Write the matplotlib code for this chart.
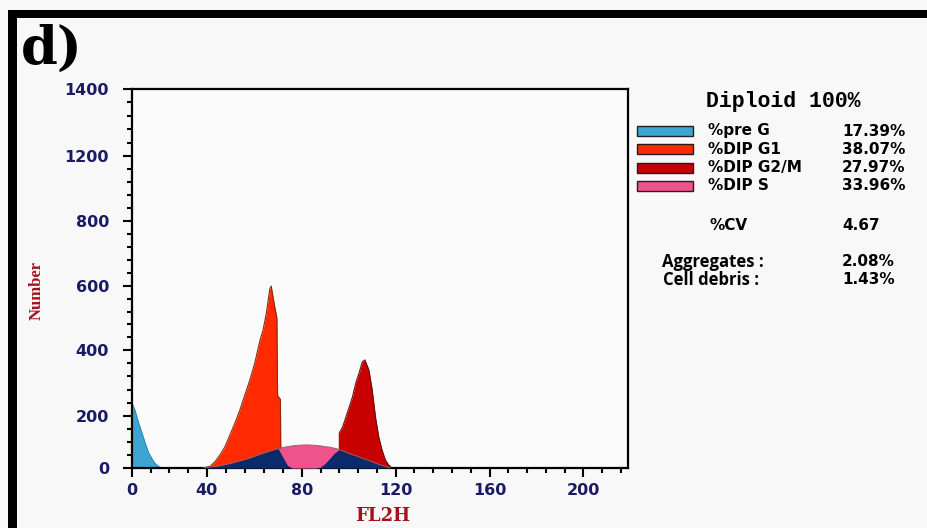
import matplotlib.pyplot as plt
import numpy as np
from matplotlib.patches import Rectangle
from matplotlib.ticker import FixedLocator

# *** histogram data (FL2H channel, number of events)
preg_x = [0, 1.6, 3.4, 5.2, 6.9, 8.7, 10.5, 12.2, 14, 15.5]
preg_n = [240, 218, 177, 138, 100, 62, 38, 19, 8, 0]

g1_x = [37.5, 41.3, 43.4, 45.5, 47.6, 49.7, 51.8, 53.9, 56.0, 58.1, 60.2, 62.3, 63.7,
        65.1, 66.5, 67.1, 68.0, 68.8, 69.5, 69.8, 71.0, 71.2]
g1_n = [0, 6, 24, 50, 82, 127, 173, 218, 264, 309, 361, 428, 463,
        517, 590, 600, 560, 527, 500, 262, 250, 0]

g2_x = [96, 96, 97.4, 98.8, 100.2, 101.6, 103, 104.4, 105.8, 106.9, 108.6, 110, 111.4,
        112.8, 114.2, 115.6, 117, 118.4]
g2_n = [0, 135, 158, 196, 227, 258, 300, 330, 364, 370, 339, 279, 196,
        119, 69, 31, 12, 0]

# S phase band, one value every 2 channels from 38 to 118
s_x = np.arange(38, 120, 2)
s_n = [0, 2, 4, 7, 10, 14, 18, 23, 28, 33, 38, 45, 52, 58, 64, 70, 75, 79, 82, 85, 87,
       88, 89, 88, 87, 85, 82, 80, 76, 71, 64, 57, 50, 44, 37, 31, 24, 17, 11, 5, 0]
# pink part of the S band between the two peaks (channels 70..96), lower edge
sp_from, sp_to = 16, 30
sp_floor = [75, 42, 10, 0, 0, 0, 0, 0, 0, 4, 18, 38, 58, 71]

# *** fit summary
leyenda = ["%pre G", "%DIP G1", "%DIP G2/M", "%DIP S"]
porcentajes = ["17.39%", "38.07%", "27.97%", "33.96%"]
cv = "4.67"
agregados = "2.08%"
detritos = "1.43%"

x_ticks = [0, 40, 80, 120, 160, 200]
y_ticks = [0, 200, 400, 600, 800, 1200, 1400]

c_preg = "#3ea5d3"
c_g1 = "#ff2a00"
c_g2 = "#c80000"
c_s = "#f0538b"
c_navy = "#0b2a6c"
c_tick = "#1a1a66"
c_lab = "#a3121c"


# axes of the cytometer software are not uniform, map value -> drawn length
xv = [-1000, 0, 40, 80, 120, 160, 200, 1000]
xp = [-1875, 0, 75, 170, 264, 358, 452, 2332]
yv = [-1000, 0, 200, 400, 600, 800, 1200, 1400, 3000]
yp = [-260, 0, 52, 118, 182, 247, 312, 379, 915]


def fwd_x(v):
    return np.interp(v, xv, xp)


def inv_x(p):
    return np.interp(p, xp, xv)


def fwd_y(v):
    return np.interp(v, yv, yp)


def inv_y(p):
    return np.interp(p, yp, yv)


W, H = 927, 528


def fig_xy(x, y):
    return x / W, 1 - y / H


fig = plt.figure(figsize=(W / 100, H / 100), dpi=100, facecolor="#f8f8f8")
ax = fig.add_axes([132 / W, 60 / H, 496 / W, 379 / H])
ax.set_facecolor("#fbfbfb")
ax.set_xscale("function", functions=(fwd_x, inv_x))
ax.set_yscale("function", functions=(fwd_y, inv_y))
ax.set_xlim(0, 219)
ax.set_ylim(0, 1400)

# *** populations
ax.fill_between(preg_x, preg_n, color=c_preg, lw=0, zorder=2)
ax.plot(preg_x, preg_n, color="#2a7fa8", lw=0.6, zorder=2)

ax.fill_between(g1_x, g1_n, color=c_g1, lw=0, zorder=2)
ax.plot(g1_x, g1_n, color="#8a2a10", lw=0.8, zorder=2)

ax.fill_between(g2_x, g2_n, color=c_g2, lw=0, zorder=2)
ax.plot(g2_x, g2_n, color="#6a1010", lw=0.8, zorder=2)

ax.fill_between(s_x, s_n, color=c_navy, lw=0, zorder=3)
ax.fill_between(s_x[sp_from:sp_to], sp_floor, s_n[sp_from:sp_to], color=c_s, lw=0, zorder=4)
ax.plot(s_x, s_n, color="#a0605a", lw=0.7, zorder=5)

# *** axes look
for lado in ax.spines.values():
    lado.set_linewidth(1.6)
    lado.set_color("black")

ax.xaxis.set_major_locator(FixedLocator(x_ticks))
ax.yaxis.set_major_locator(FixedLocator(y_ticks))
x_menores = [10, 20, 30] + [v for v in range(48, 220, 8) if v % 40]
y_menores = ([50, 100, 150] + [v for v in range(240, 800, 40) if v % 200]
             + [880, 960, 1040, 1120] + [1240, 1280, 1320, 1360])
ax.xaxis.set_minor_locator(FixedLocator(x_menores))
ax.yaxis.set_minor_locator(FixedLocator(y_menores))
ax.set_xticklabels([str(v) for v in x_ticks])
ax.set_yticklabels([str(v) for v in y_ticks])

ax.tick_params(which="major", direction="out", length=6.5, width=1.5, color="black")
ax.tick_params(which="minor", direction="out", length=3.5, width=1.5, color="black")
ax.tick_params(axis="y", which="major", pad=10)
ax.tick_params(axis="x", which="major", pad=4)
for t in ax.get_xticklabels() + ax.get_yticklabels():
    t.set_fontfamily("DejaVu Sans")
    t.set_fontweight("bold")
    t.set_fontsize(11.5)
    t.set_color(c_tick)

fig.text(*fig_xy(37, 291), "Number", rotation=90, ha="center", va="center",
         family="Liberation Serif", weight="bold", size=12, color=c_lab)
fig.text(*fig_xy(383, 516), "FL2H", ha="center", va="center",
         family="DejaVu Serif", weight="bold", size=13, color=c_lab)
fig.text(*fig_xy(21, 64), "d)", ha="left", va="baseline",
         family="DejaVu Serif", weight="bold", size=38, color="black")

# *** summary panel
fig.text(*fig_xy(783, 101), "Diploid 100%", ha="center", va="center",
         family="Liberation Mono", weight="bold", size=15.5, color="black")
filas = [131, 149, 168, 186]
colores = [c_preg, c_g1, c_g2, c_s]
for fila, nombre, valor, col in zip(filas, leyenda, porcentajes, colores):
    x0, y0 = fig_xy(637, fila + 4.5)
    fig.patches.append(Rectangle((x0, y0), 56 / W, 9 / H, transform=fig.transFigure,
                                 facecolor=col, edgecolor="#202020", lw=1.0))
    fig.text(*fig_xy(708, fila), nombre, ha="left", va="center",
             family="DejaVu Sans", weight="bold", size=11, color="black")
    fig.text(*fig_xy(842, fila), valor, ha="left", va="center",
             family="DejaVu Sans", weight="bold", size=11, color="black")

fig.text(*fig_xy(710, 225), "%CV", ha="left", va="center",
         family="DejaVu Sans", weight="bold", size=11, color="black")
fig.text(*fig_xy(842, 225), cv, ha="left", va="center",
         family="DejaVu Sans", weight="bold", size=11, color="black")
fig.text(*fig_xy(662, 262), "Aggregates :", ha="left", va="center",
         family="Open Sans", weight="bold", size=12, color="black")
fig.text(*fig_xy(842, 262), agregados, ha="left", va="center",
         family="DejaVu Sans", weight="bold", size=11, color="black")
fig.text(*fig_xy(663, 280), "Cell debris :", ha="left", va="center",
         family="Open Sans", weight="bold", size=12, color="black")
fig.text(*fig_xy(842, 280), detritos, ha="left", va="center",
         family="DejaVu Sans", weight="bold", size=11, color="black")

# *** black frame, top and left
fig.patches.append(Rectangle(fig_xy(8, 18), 1, 8 / H, transform=fig.transFigure,
                             facecolor="black", lw=0))
fig.patches.append(Rectangle((8 / W, 0), 9 / W, 1 - 10 / H, transform=fig.transFigure,
                             facecolor="black", lw=0))

fig.savefig("out.png", dpi=100, facecolor=fig.get_facecolor())
